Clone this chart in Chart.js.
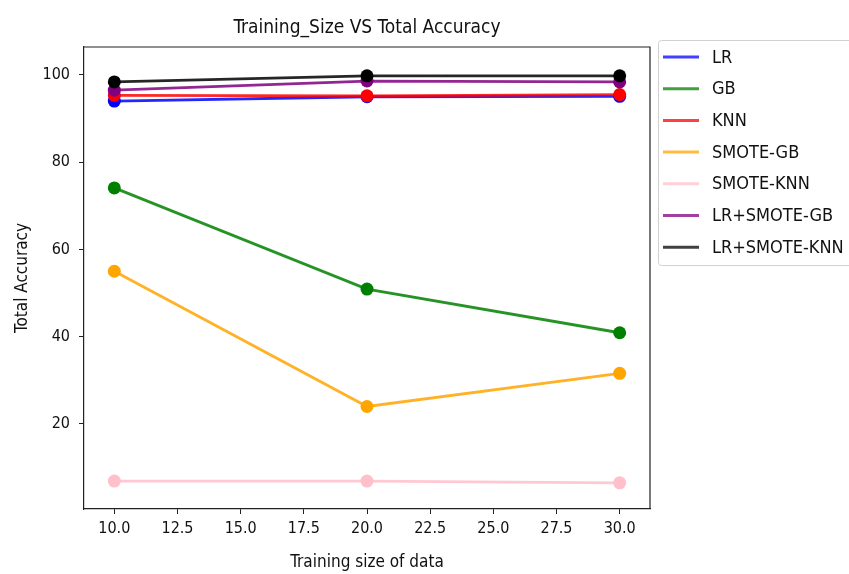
<!DOCTYPE html>
<html>
<head>
<meta charset="utf-8">
<script src="https://cdn.jsdelivr.net/npm/chart.js@4/dist/chart.umd.min.js"></script>
<style>
  body { margin: 0; background: #fff; }
</style>
</head>
<body>
<canvas id="myChart" width="849" height="574"></canvas>
<script>
var FONT = '"DejaVu Sans Condensed", "DejaVu Sans", sans-serif';

var trainingSizes = [10, 20, 30];
var xTicks = [10, 12.5, 15, 17.5, 20, 22.5, 25, 27.5, 30];
var yTicks = [20, 40, 60, 80, 100];

var lr = [94.0, 95.0, 95.1];
var gb = [74.1, 50.9, 40.9];
var knn = [95.3, 95.2, 95.5];
var smoteGb = [55.0, 24.0, 31.6];
var smoteKnn = [6.9, 6.9, 6.5];
var lrSmoteGb = [96.5, 98.6, 98.4];
var lrSmoteKnn = [98.4, 99.8, 99.8];

var seriesNames = ['LR', 'GB', 'KNN', 'SMOTE-GB', 'SMOTE-KNN', 'LR+SMOTE-GB', 'LR+SMOTE-KNN'];
var seriesValues = [lr, gb, knn, smoteGb, smoteKnn, lrSmoteGb, lrSmoteKnn];
var colors = ['0,0,255', '0,128,0', '255,0,0', '255,165,0', '255,192,203', '128,0,128', '0,0,0'];

function points(values) {
  return values.map(function (v, i) { return {x: trainingSizes[i], y: v}; });
}

var datasets = seriesNames.map(function (name, i) {
  return {
    label: name,
    data: points(seriesValues[i]),
    borderColor: 'rgba(' + colors[i] + ',0.85)',
    backgroundColor: 'rgb(' + colors[i] + ')',
    pointBorderColor: 'rgb(' + colors[i] + ')',
    pointBackgroundColor: 'rgb(' + colors[i] + ')',
    borderWidth: 2.8,
    pointRadius: 6.5,
    pointBorderWidth: 0,
    tension: 0,
    order: seriesNames.length - i
  };
});

// title, frame and legend drawn the matplotlib way
var extras = {
  id: 'extras',
  afterDraw: function (chart) {
    var c = chart.ctx, a = chart.chartArea;
    c.save();
    c.strokeStyle = '#222';
    c.lineWidth = 1.2;
    c.beginPath();
    c.moveTo(a.left, a.top); c.lineTo(a.right, a.top); c.lineTo(a.right, a.bottom);
    c.stroke();

    c.fillStyle = '#111';
    c.font = '19px ' + FONT;
    c.textAlign = 'center';
    c.textBaseline = 'middle';
    c.fillText('Training_Size VS Total Accuracy', (a.left + a.right) / 2, 28);

    var bx = 658.5, by = 40.5, bw = 200, bh = 225;
    c.beginPath();
    c.roundRect(bx, by, bw, bh, 3);
    c.fillStyle = 'rgba(255,255,255,0.8)';
    c.fill();
    c.strokeStyle = '#d0d0d0';
    c.lineWidth = 1;
    c.stroke();

    c.font = '18px ' + FONT;
    c.textAlign = 'left';
    seriesNames.forEach(function (name, i) {
      var y = 57 + i * 31.7;
      c.strokeStyle = 'rgba(' + colors[i] + ',0.75)';
      c.lineWidth = 3;
      c.beginPath();
      c.moveTo(663, y); c.lineTo(699, y);
      c.stroke();
      c.fillStyle = '#111';
      c.fillText(name, 712, y + 1);
    });
    c.restore();
  }
};

var ctx = document.getElementById('myChart').getContext('2d');
var myChart = new Chart(ctx, {
  type: 'line',
  data: { datasets: datasets },
  plugins: [extras],
  options: {
    responsive: false,
    animation: false,
    devicePixelRatio: 1,
    layout: { padding: { top: 47, right: 199, left: 0, bottom: 0 } },
    plugins: {
      legend: { display: false },
      tooltip: { enabled: false }
    },
    scales: {
      x: {
        type: 'linear',
        min: 8.8,
        max: 31.2,
        afterBuildTicks: function (scale) {
          scale.ticks = xTicks.map(function (v) { return {value: v}; });
        },
        afterFit: function (scale) { scale.height = 65; },
        ticks: {
          color: '#111',
          font: { family: FONT, size: 16 },
          padding: 5,
          maxRotation: 0,
          callback: function (v) { return v.toFixed(1); }
        },
        grid: { display: true, drawOnChartArea: false, drawTicks: true, tickLength: 5, color: '#222' },
        border: { display: true, color: '#222', width: 1.2 },
        title: {
          display: true,
          text: 'Training size of data',
          color: '#111',
          font: { family: FONT, size: 17 },
          padding: { top: 0, bottom: 1 }
        }
      },
      y: {
        min: 0.5,
        max: 106.4,
        afterBuildTicks: function (scale) {
          scale.ticks = yTicks.map(function (v) { return {value: v}; });
        },
        afterFit: function (scale) { scale.width = 84; },
        ticks: {
          color: '#111',
          font: { family: FONT, size: 16 },
          padding: 9
        },
        grid: { display: true, drawOnChartArea: false, drawTicks: true, tickLength: 5, color: '#222' },
        border: { display: true, color: '#222', width: 1.2 },
        title: {
          display: true,
          text: 'Total Accuracy',
          color: '#111',
          font: { family: FONT, size: 17 },
          padding: { top: 12, bottom: 0 }
        }
      }
    }
  }
});
</script>
</body>
</html>
